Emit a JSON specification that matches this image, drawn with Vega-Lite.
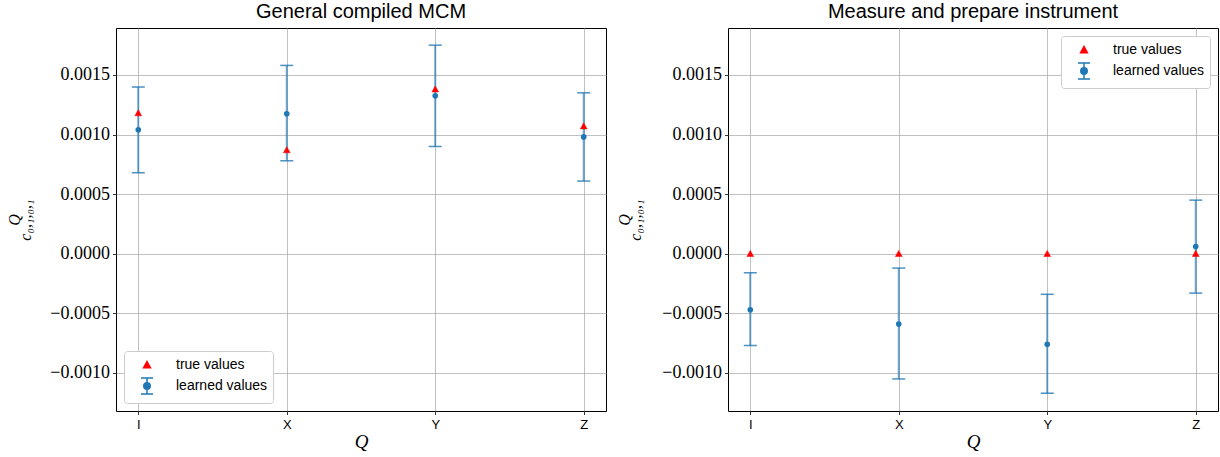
{
  "$schema": "https://vega.github.io/schema/vega-lite/v6.json",
  "padding": {"left": 5, "top": 1, "right": 0, "bottom": 0},
  "background": "white",
  "bounds": "flush",
  "spacing": 122,
  "config": {
    "view": {"stroke": "black", "strokeWidth": 1},
    "axis": {
      "grid": true, "gridColor": "#b0b0b0", "gridWidth": 0.8,
      "domain": false, "tickColor": "black", "tickSize": 3.5, "tickWidth": 0.8,
      "labelColor": "black", "titleColor": "black", "titleFontWeight": "normal"
    },
    "title": {"font": "Liberation Sans", "fontSize": 20, "fontWeight": "normal", "color": "black", "offset": 6},
    "legend": {
      "labelFont": "Liberation Sans", "labelFontSize": 14, "labelColor": "black",
      "fillColor": "white", "strokeColor": "#cccccc", "cornerRadius": 3,
      "padding": 5, "rowPadding": 2, "labelOffset": 20, "symbolOffset": 9, "symbolSize": 260, "symbolStrokeWidth": 1.5
    }
  },
  "data": {"values": [
    {"panel": "A", "q": "I", "learned": 0.00104, "lo": 0.00068, "hi": 0.00140, "truth": 0.00118, "series": "true values"},
    {"panel": "A", "q": "X", "learned": 0.001175, "lo": 0.00078, "hi": 0.00158, "truth": 0.00087, "series": "true values"},
    {"panel": "A", "q": "Y", "learned": 0.001325, "lo": 0.00090, "hi": 0.00175, "truth": 0.00138, "series": "true values"},
    {"panel": "A", "q": "Z", "learned": 0.00098, "lo": 0.00061, "hi": 0.00135, "truth": 0.00107, "series": "true values"},
    {"panel": "B", "q": "I", "learned": -0.00047, "lo": -0.00077, "hi": -0.00016, "truth": 0.0, "series": "true values"},
    {"panel": "B", "q": "X", "learned": -0.00059, "lo": -0.00105, "hi": -0.00012, "truth": 0.0, "series": "true values"},
    {"panel": "B", "q": "Y", "learned": -0.00076, "lo": -0.00117, "hi": -0.00034, "truth": 0.0, "series": "true values"},
    {"panel": "B", "q": "Z", "learned": 0.00006, "lo": -0.00033, "hi": 0.00045, "truth": 0.0, "series": "true values"}
  ]},
  "resolve": {"scale": {"fill": "independent", "stroke": "independent", "shape": "independent"}, "legend": {"fill": "independent", "stroke": "independent", "shape": "independent"}},
  "hconcat": [
    {
      "title": "General compiled MCM",
      "width": 490, "height": 383,
      "transform": [{"filter": "datum.panel === 'A'"}],
      "encoding": {
        "x": {"field": "q", "type": "nominal", "scale": {"type": "point", "padding": 0.15},
          "axis": {"title": "Q", "labelAngle": 0, "labelFont": "Liberation Sans", "labelFontSize": 13, "titleFont": "Liberation Serif", "titleFontStyle": "italic", "titleFontSize": 19, "titlePadding": 1, "labelPadding": 4}}
      },
      "layer": [
        {"mark": {"type": "rule", "color": "#1f77b4", "opacity": 0.65, "strokeWidth": 2},
          "encoding": {"y": {"field": "lo", "type": "quantitative", "scale": {"domain": [-0.001319, 0.001894], "nice": false, "zero": false},
            "axis": {"title": ["Q\u00a0\u00a0\u00a0\u00a0\u00a0\u00a0", "c\u2080,\u2081,\u2080,\u2081"], "titleLineHeight": 11, "values": [-0.001, -0.0005, 0, 0.0005, 0.001, 0.0015], "format": ".4f", "labelFont": "Liberation Serif", "labelFontSize": 18, "titleFont": "Liberation Serif", "titleFontSize": 16, "titleFontStyle": "italic", "titleX": -94, "labelPadding": 3}},
            "y2": {"field": "hi"}}},
        {"mark": {"type": "tick", "color": "#1f77b4", "opacity": 0.8, "thickness": 1.5, "size": 13, "orient": "horizontal"},
          "encoding": {"y": {"field": "lo", "type": "quantitative"}}},
        {"mark": {"type": "tick", "color": "#1f77b4", "opacity": 0.8, "thickness": 1.5, "size": 13, "orient": "horizontal"},
          "encoding": {"y": {"field": "hi", "type": "quantitative"}}},
        {"mark": {"type": "point", "shape": "circle", "filled": true, "opacity": 1, "color": "#1f77b4", "size": 32},
          "encoding": {"y": {"field": "learned", "type": "quantitative"}}},
        {"mark": {"type": "point", "filled": false, "opacity": 1, "size": 260, "strokeWidth": 0.5},
          "encoding": {
            "y": {"field": "truth", "type": "quantitative"},
            "fill": {"field": "series", "type": "nominal", "scale": {"domain": ["true values", "learned values"], "range": ["red", "#1f77b4"]},
              "legend": {"title": null, "orient": "bottom-left", "offset": 8}},
            "stroke": {"field": "series", "type": "nominal", "scale": {"domain": ["true values", "learned values"], "range": ["red", "#1f77b4"]},
              "legend": {"title": null, "orient": "bottom-left", "offset": 8}},
            "shape": {"field": "series", "type": "nominal", "scale": {"domain": ["true values", "learned values"], "range": ["M0,-0.42L0.42,0.34L-0.42,0.34Z", "M-0.75,-1H0.75M0,-1V1M-0.75,1H0.75M0.4,0A0.4,0.4 0 1,1 -0.4,0A0.4,0.4 0 1,1 0.4,0Z"]},
              "legend": {"title": null, "orient": "bottom-left", "offset": 8}}
          }}
      ]
    },
    {
      "title": "Measure and prepare instrument",
      "width": 490, "height": 383,
      "transform": [{"filter": "datum.panel === 'B'"}],
      "encoding": {
        "x": {"field": "q", "type": "nominal", "scale": {"type": "point", "padding": 0.15},
          "axis": {"title": "Q", "labelAngle": 0, "labelFont": "Liberation Sans", "labelFontSize": 13, "titleFont": "Liberation Serif", "titleFontStyle": "italic", "titleFontSize": 19, "titlePadding": 1, "labelPadding": 4}}
      },
      "layer": [
        {"mark": {"type": "rule", "color": "#1f77b4", "opacity": 0.65, "strokeWidth": 2},
          "encoding": {"y": {"field": "lo", "type": "quantitative", "scale": {"domain": [-0.001319, 0.001894], "nice": false, "zero": false},
            "axis": {"title": ["Q\u00a0\u00a0\u00a0\u00a0\u00a0\u00a0", "c\u2080,\u2081,\u2080,\u2081"], "titleLineHeight": 11, "values": [-0.001, -0.0005, 0, 0.0005, 0.001, 0.0015], "format": ".4f", "labelFont": "Liberation Serif", "labelFontSize": 18, "titleFont": "Liberation Serif", "titleFontSize": 16, "titleFontStyle": "italic", "titleX": -96, "labelPadding": 3}},
            "y2": {"field": "hi"}}},
        {"mark": {"type": "tick", "color": "#1f77b4", "opacity": 0.8, "thickness": 1.5, "size": 13, "orient": "horizontal"},
          "encoding": {"y": {"field": "lo", "type": "quantitative"}}},
        {"mark": {"type": "tick", "color": "#1f77b4", "opacity": 0.8, "thickness": 1.5, "size": 13, "orient": "horizontal"},
          "encoding": {"y": {"field": "hi", "type": "quantitative"}}},
        {"mark": {"type": "point", "shape": "circle", "filled": true, "opacity": 1, "color": "#1f77b4", "size": 32},
          "encoding": {"y": {"field": "learned", "type": "quantitative"}}},
        {"mark": {"type": "point", "filled": false, "opacity": 1, "size": 260, "strokeWidth": 0.5},
          "encoding": {
            "y": {"field": "truth", "type": "quantitative"},
            "fill": {"field": "series", "type": "nominal", "scale": {"domain": ["true values", "learned values"], "range": ["red", "#1f77b4"]},
              "legend": {"title": null, "orient": "top-right", "offset": 8}},
            "stroke": {"field": "series", "type": "nominal", "scale": {"domain": ["true values", "learned values"], "range": ["red", "#1f77b4"]},
              "legend": {"title": null, "orient": "top-right", "offset": 8}},
            "shape": {"field": "series", "type": "nominal", "scale": {"domain": ["true values", "learned values"], "range": ["M0,-0.42L0.42,0.34L-0.42,0.34Z", "M-0.75,-1H0.75M0,-1V1M-0.75,1H0.75M0.4,0A0.4,0.4 0 1,1 -0.4,0A0.4,0.4 0 1,1 0.4,0Z"]},
              "legend": {"title": null, "orient": "top-right", "offset": 8}}
          }}
      ]
    }
  ]
}
